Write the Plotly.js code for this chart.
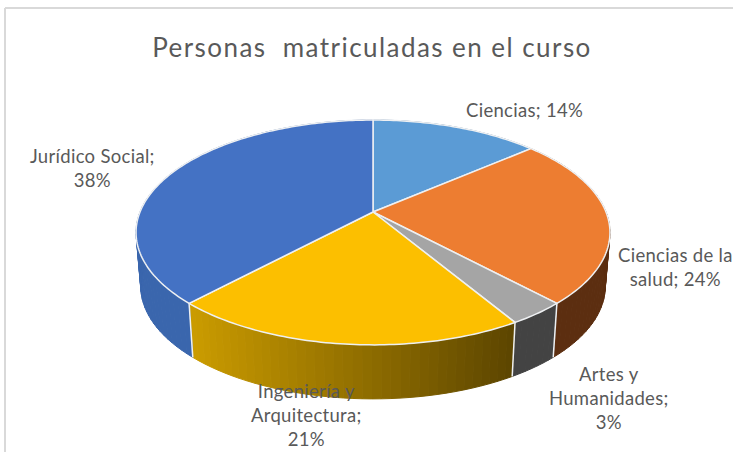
<!DOCTYPE html>
<html><head><meta charset="utf-8">
<script src="https://cdn.plot.ly/plotly-3.0.1.min.js"></script>
<style>html,body{margin:0;padding:0;background:#fff}#c{width:733px;height:452px}
.gtitle{letter-spacing:1.45px}
.annotation-text{letter-spacing:0.3px}
</style>
</head><body><div id="c"></div>
<script>
// Data
const categories = ["Ciencias","Ciencias de la salud","Artes y Humanidades","Ingeniería y Arquitectura","Jurídico Social"];
const values = [13.7,24.3,3.4,20.6,38];
const labelTexts = ["Ciencias; 14%","Ciencias de la<br>salud; 24%","Artes y<br>Humanidades;<br>3%","Ingeniería y<br>Arquitectura;<br>21%","Jurídico Social;<br>38%"];
const topColors = ["#5b9bd5","#ed7d31","#a5a5a5","#fcbf00","#4472c4"];
const wallFrom = ["#3c6a99","#6a3514","#434343","#cb9c00","#3a66ad"];
const wallTo   = ["#3c6a99","#5c2e10","#434343","#5c4500","#34599b"];
const titleText = "Personas \u00a0matriculadas en el curso";

// Perspective pie geometry (pixels, via a 1:1 axis)
const W=733,H=452, cx=373, cy=212, a=233, b=108.7, k=0.182, dy=54, sx=0.98;
const proj=(t)=>{const d=1+k*Math.cos(t);return [a*Math.sin(t)/d, b*Math.cos(t)/d];};
const topPt=(t)=>{const p=proj(t);return [cx+p[0],cy-p[1]];};
const botPt=(t)=>{const p=proj(t);return [cx+sx*p[0],cy+dy-p[1]];};
const hex=(c)=>[1,3,5].map(i=>parseInt(c.substr(i,2),16));
const mix=(c1,c2,f)=>{const A=hex(c1),B=hex(c2);return 'rgb('+A.map((v,i)=>Math.round(v+(B[i]-v)*f)).join(',')+')';};

const total=values.reduce((s,v)=>s+v,0);
let acc=0; const slices=values.map((v,i)=>{const s=acc/total*2*Math.PI;acc+=v;return {i,s,e:acc/total*2*Math.PI};});
const EDGE="#eef0f2";
const traces=[];
const poly=(xs,ys,fill,lc,lw)=>traces.push({type:'scatter',mode:'lines',x:xs,y:ys,fill:'toself',fillcolor:fill,
  line:{color:lc,width:lw,simplify:false},hoverinfo:'skip',showlegend:false});
const STEP=2*Math.PI/180;
// walls, drawn first: split into strips so that the horizontal shading follows x
slices.forEach(sl=>{
  const n=Math.max(1,Math.ceil((sl.e-sl.s)/STEP));
  const xa=topPt(sl.s)[0], xb=topPt(sl.e)[0];
  for(let j=0;j<n;j++){
    const t0=sl.s+(sl.e-sl.s)*j/n, t1=sl.s+(sl.e-sl.s)*(j+1)/n;
    const p0=topPt(t0),p1=topPt(t1),q1=botPt(t1),q0=botPt(t0);
    const f=(xa===xb)?0:Math.min(1,Math.max(0,(((p0[0]+p1[0])/2-Math.min(xa,xb))/Math.abs(xb-xa))));
    const col=mix(wallFrom[sl.i],wallTo[sl.i],f);
    poly([p0[0],p1[0],q1[0],q0[0],p0[0]],[p0[1],p1[1],q1[1],q0[1],p0[1]],col,col,1);
  }
});
// separators on the wall
slices.forEach(sl=>{
  const p=topPt(sl.s),q=botPt(sl.s);
  if(p[1]>240) traces.push({type:'scatter',mode:'lines',x:[p[0],q[0]],y:[p[1],q[1]],line:{color:EDGE,width:1.5},hoverinfo:'skip',showlegend:false});
});
// top faces
slices.forEach(sl=>{
  const xs=[cx],ys=[cy];
  const n=Math.ceil((sl.e-sl.s)/(STEP/2));
  for(let j=0;j<=n;j++){const p=topPt(sl.s+(sl.e-sl.s)*j/n);xs.push(p[0]);ys.push(p[1]);}
  xs.push(cx);ys.push(cy);
  traces.push({type:'scatter',mode:'lines',name:categories[sl.i],x:xs,y:ys,fill:'toself',fillcolor:topColors[sl.i],
    line:{color:EDGE,width:1.5,simplify:false},hoverinfo:'name',showlegend:false});
});

const labelPos=[[524,110],[675,267],[609,398],[306,415],[92,168]];
const annotations=labelTexts.map((t,i)=>({xref:'x',yref:'y',x:labelPos[i][0],y:labelPos[i][1],text:t,showarrow:false,
  xanchor:'center',yanchor:'middle',align:'center',font:{family:'Lato, sans-serif',size:18.5,color:'#595959'}}));

Plotly.newPlot('c',traces,{
  width:W,height:H,margin:{l:0,r:0,t:0,b:0},paper_bgcolor:'#fff',plot_bgcolor:'#fff',showlegend:false,
  title:{text:titleText,x:372/W,xanchor:'center',y:1-48/H,yanchor:'middle',font:{family:'Lato, sans-serif',size:26,color:'#595959'}},
  xaxis:{range:[0,W],visible:false,fixedrange:true},
  yaxis:{range:[H,0],visible:false,fixedrange:true},
  annotations,
  shapes:[{type:'line',xref:'x',yref:'y',x0:5,y0:8,x1:5,y1:452,line:{color:'#d9d9d9',width:2}},
          {type:'line',xref:'x',yref:'y',x0:5,y0:8,x1:733,y1:8,line:{color:'#d9d9d9',width:2}}]
},{displayModeBar:false,staticPlot:true});
</script></body></html>
